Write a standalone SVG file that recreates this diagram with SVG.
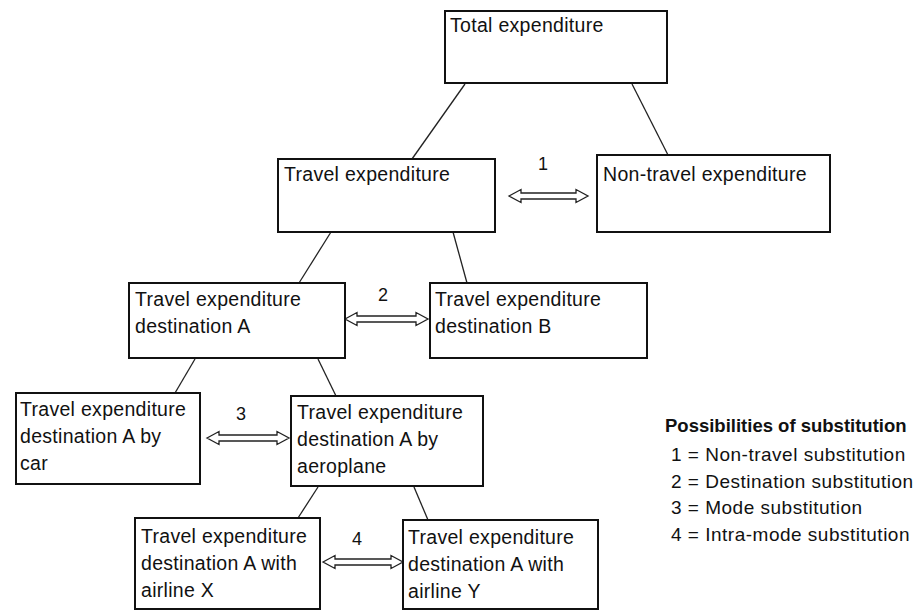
<svg xmlns="http://www.w3.org/2000/svg" width="917" height="610" viewBox="0 0 917 610">
<style>
.box{fill:#fff;stroke:#111;stroke-width:2}
.t{font-family:"Liberation Sans",Arial,sans-serif;font-size:19.5px;letter-spacing:0.3px;fill:#111}
.lbl{font-family:"Liberation Sans",Arial,sans-serif;font-size:18px;fill:#111;text-anchor:middle}
.lg{font-family:"Liberation Sans",Arial,sans-serif;font-size:19px;letter-spacing:0.5px;fill:#111}
.lgb{font-weight:bold;font-size:18.5px;letter-spacing:0}
.ln{stroke:#222;stroke-width:1.3;fill:none}
.arr{fill:#fff;stroke:#222;stroke-width:1.3;stroke-linejoin:miter}
</style>
<rect width="917" height="610" fill="#fff"/>
<g id="connectors">
<line class="ln" x1="465" y1="84" x2="412" y2="159"/>
<line class="ln" x1="632" y1="84" x2="668" y2="155"/>
<line class="ln" x1="331" y1="232" x2="299" y2="283"/>
<line class="ln" x1="453" y1="232" x2="467" y2="283"/>
<line class="ln" x1="195" y1="359" x2="175" y2="393"/>
<line class="ln" x1="318" y1="359" x2="336" y2="396"/>
<line class="ln" x1="318" y1="487" x2="298" y2="518"/>
<line class="ln" x1="414" y1="487" x2="428" y2="520"/>
<polygon class="arr" points="509,196 521,189.5 521,193 576,193 576,189.5 588,196 576,202.5 576,199 521,199 521,202.5"/>
<polygon class="arr" points="345,319 357,312.5 357,316 416,316 416,312.5 428,319 416,325.5 416,322 357,322 357,325.5"/>
<polygon class="arr" points="207,438 219,431.5 219,435 277,435 277,431.5 289,438 277,444.5 277,441 219,441 219,444.5"/>
<polygon class="arr" points="323,562 335,555.5 335,559 391,559 391,555.5 403,562 391,568.5 391,565 335,565 335,568.5"/>
<text class="lbl" x="543" y="170">1</text>
<text class="lbl" x="383" y="301">2</text>
<text class="lbl" x="241" y="420">3</text>
<text class="lbl" x="357" y="545">4</text>
</g>
<g id="total">
<rect class="box" x="445" y="11" width="222" height="72"/>
<text class="t" x="450" y="32">Total expenditure</text>
</g>
<g id="travel">
<rect class="box" x="278" y="159" width="217" height="73"/>
<text class="t" x="284" y="181">Travel expenditure</text>
</g>
<g id="nontravel">
<rect class="box" x="597" y="155" width="233" height="77"/>
<text class="t" x="603" y="181">Non-travel expenditure</text>
</g>
<g id="destA">
<rect class="box" x="129" y="283" width="216" height="75"/>
<text class="t" x="135" y="306">Travel expenditure</text>
<text class="t" x="135" y="333">destination A</text>
</g>
<g id="destB">
<rect class="box" x="430" y="283" width="217" height="75"/>
<text class="t" x="435" y="306">Travel expenditure</text>
<text class="t" x="435" y="333">destination B</text>
</g>
<g id="car">
<rect class="box" x="16" y="393" width="184" height="91"/>
<text class="t" x="20" y="416">Travel expenditure</text>
<text class="t" x="20" y="443">destination A by</text>
<text class="t" x="20" y="470">car</text>
</g>
<g id="aeroplane">
<rect class="box" x="291" y="396" width="192" height="90"/>
<text class="t" x="297" y="419">Travel expenditure</text>
<text class="t" x="297" y="446">destination A by</text>
<text class="t" x="297" y="473">aeroplane</text>
</g>
<g id="airlineX">
<rect class="box" x="135" y="518" width="185" height="91"/>
<text class="t" x="141" y="543">Travel expenditure</text>
<text class="t" x="141" y="570">destination A with</text>
<text class="t" x="141" y="597">airline X</text>
</g>
<g id="airlineY">
<rect class="box" x="403" y="520" width="195" height="89"/>
<text class="t" x="408" y="544">Travel expenditure</text>
<text class="t" x="408" y="571">destination A with</text>
<text class="t" x="408" y="598">airline Y</text>
</g>
<g id="legend">
<text class="lg lgb" x="665" y="432">Possibilities of substitution</text>
<text class="lg" x="671" y="461">1 = Non-travel substitution</text>
<text class="lg" x="671" y="488">2 = Destination substitution</text>
<text class="lg" x="671" y="514">3 = Mode substitution</text>
<text class="lg" x="671" y="541">4 = Intra-mode substitution</text>
</g>
</svg>
